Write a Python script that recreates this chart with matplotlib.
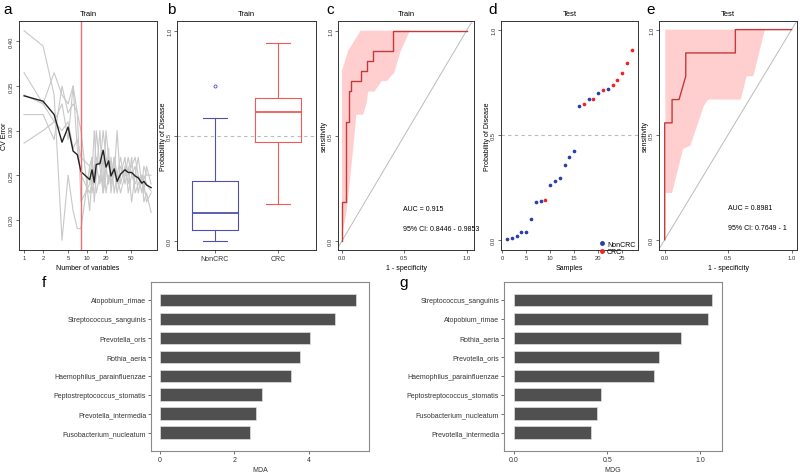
import numpy as np
import matplotlib
matplotlib.use('Agg')
from matplotlib import pyplot as plt
from matplotlib.lines import Line2D

plt.rcParams['font.family'] = ['Liberation Sans', 'DejaVu Sans']

# ---- a: CV error vs number of variables
n_vars = [1, 2, 3, 4, 5, 6, 7, 8, 11, 12, 13, 14, 16, 18, 20, 22, 24, 27, 30, 34, 40, 45, 51, 58, 65, 74, 80, 88, 104]
cv_mean = [0.339, 0.333, 0.318, 0.287, 0.304, 0.277, 0.273, 0.254, 0.245, 0.256, 0.242, 0.262, 0.263, 0.278, 0.259,
           0.266, 0.249, 0.257, 0.243, 0.251, 0.256, 0.253, 0.253, 0.249, 0.247, 0.241, 0.243, 0.239, 0.236]
cv_rep1 = [0.412, 0.395, 0.34, 0.177, 0.25, 0.21, 0.19, 0.19, 0.26, 0.23, 0.25, 0.30, 0.26, 0.23, 0.25, 0.28, 0.23,
           0.26, 0.23, 0.25, 0.27, 0.23, 0.25, 0.26, 0.23, 0.25, 0.22, 0.23, 0.208]
cv_rep2 = [0.365, 0.33, 0.365, 0.34, 0.33, 0.35, 0.32, 0.22, 0.24, 0.27, 0.22, 0.25, 0.30, 0.23, 0.26, 0.24, 0.27,
           0.23, 0.25, 0.27, 0.24, 0.26, 0.22, 0.25, 0.27, 0.24, 0.26, 0.25, 0.25]
cv_rep3 = [0.318, 0.318, 0.29, 0.35, 0.32, 0.33, 0.32, 0.30, 0.21, 0.25, 0.30, 0.26, 0.24, 0.27, 0.23, 0.25, 0.24,
           0.27, 0.25, 0.23, 0.25, 0.27, 0.25, 0.24, 0.25, 0.23, 0.25, 0.24, 0.232]
cv_rep4 = [0.286, 0.30, 0.31, 0.33, 0.29, 0.35, 0.28, 0.25, 0.23, 0.24, 0.26, 0.23, 0.25, 0.24, 0.30, 0.27, 0.24,
           0.25, 0.30, 0.24, 0.26, 0.24, 0.27, 0.23, 0.24, 0.25, 0.23, 0.26, 0.24]
cv_rep5 = [0.34, 0.33, 0.31, 0.30, 0.31, 0.28, 0.29, 0.27, 0.26, 0.27, 0.24, 0.27, 0.26, 0.30, 0.27, 0.26, 0.25,
           0.27, 0.24, 0.26, 0.25, 0.25, 0.26, 0.27, 0.25, 0.24, 0.24, 0.22, 0.23]
best_n = 8

# ---- b: train probabilities (whislo, q1, med, q3, whishi)
noncrc_box = [0.0, 0.052, 0.131, 0.286, 0.583]
noncrc_out = [0.735]
crc_box = [0.175, 0.471, 0.611, 0.68, 0.94]

# ---- c: train ROC
train_fpr = [0, 0, 0.03, 0.03, 0.056, 0.056, 0.075, 0.075, 0.15, 0.15, 0.198, 0.198, 0.246, 0.246, 0.411, 0.411, 1.0]
train_tpr = [0, 0.186, 0.186, 0.567, 0.567, 0.714, 0.714, 0.762, 0.762, 0.81, 0.81, 0.857, 0.857, 0.905, 0.905, 1.0, 1.0]
train_ci_x = [0, 0, 0.05, 0.15, 0.545, 0.47, 0.42, 0.36, 0.32, 0.26, 0.21, 0.2, 0.17, 0.115, 0.104, 0.064, 0.037]
train_ci_y = [0.03, 0.81, 0.905, 1.0, 1.0, 0.9, 0.8, 0.76, 0.76, 0.71, 0.71, 0.66, 0.6, 0.6, 0.524, 0.286, 0.135]
train_auc = 'AUC = 0.915'
train_ci = '95% CI: 0.8446 - 0.9853'

# ---- d: test probabilities
test_prob = [0.003, 0.006, 0.019, 0.038, 0.038, 0.099, 0.178, 0.184, 0.187, 0.26, 0.281, 0.292, 0.356, 0.395,
             0.424, 0.638, 0.646, 0.670, 0.670, 0.699, 0.711, 0.718, 0.737, 0.760, 0.794, 0.841, 0.902]
test_group = ['NonCRC'] * 8 + ['CRC'] + ['NonCRC'] * 7 + ['CRC', 'NonCRC', 'CRC', 'NonCRC', 'CRC', 'NonCRC'] + ['CRC'] * 5

# ---- e: test ROC
test_fpr = [0, 0, 0.058, 0.058, 0.113, 0.166, 0.166, 0.557, 0.557, 1.0]
test_tpr = [0, 0.556, 0.556, 0.667, 0.667, 0.778, 0.889, 0.889, 1.0, 1.0]
test_ci_x = [0.005, 0.005, 0.79, 0.699, 0.646, 0.6, 0.343, 0.309, 0.203, 0.145, 0.058]
test_ci_y = [0.222, 1.0, 1.0, 0.778, 0.778, 0.667, 0.667, 0.638, 0.448, 0.432, 0.222]
test_auc = 'AUC = 0.8981'
test_ci = '95% CI: 0.7649 - 1'

# ---- f / g: importance
mda_names = ['Atopobium_rimae', 'Streptococcus_sanguinis', 'Prevotella_oris', 'Rothia_aeria',
             'Haemophilus_parainfluenzae', 'Peptostreptococcus_stomatis', 'Prevotella_intermedia',
             'Fusobacterium_nucleatum']
mda_vals = [5.25, 4.69, 4.02, 3.75, 3.51, 2.73, 2.57, 2.41]
mdg_names = ['Streptococcus_sanguinis', 'Atopobium_rimae', 'Rothia_aeria', 'Prevotella_oris',
             'Haemophilus_parainfluenzae', 'Peptostreptococcus_stomatis', 'Fusobacterium_nucleatum',
             'Prevotella_intermedia']
mdg_vals = [1.063, 1.041, 0.898, 0.776, 0.754, 0.466, 0.443, 0.414]

W, H = 800, 477
fig = plt.figure(figsize=(W / 100, H / 100), dpi=100)


def px_axes(l, t, r, b):
    return fig.add_axes([l / W, 1 - b / H, (r - l) / W, (b - t) / H])


def r_style(ax, title=None):
    for s in ax.spines.values():
        s.set_color('#333333')
        s.set_linewidth(0.7)
    ax.tick_params(labelsize=4.2, length=2, width=0.5, pad=1.5, colors='#333333')
    ax.tick_params(axis='y', labelrotation=90)
    for lab in ax.get_yticklabels():
        lab.set_va('center')
    if title:
        ax.set_title(title, fontsize=5.5, pad=4)


# a
ax = px_axes(19, 22, 157, 251)
for rep in [cv_rep1, cv_rep2, cv_rep3, cv_rep4, cv_rep5]:
    ax.plot(n_vars, rep, color='#C8C8C8', lw=0.8)
ax.plot(n_vars, cv_mean, color='#222222', lw=1.0)
ax.axvline(best_n, color='#F07070', lw=1.0)
ax.set_xscale('log')
ax.set_xlim(0.83, 129)
ax.set_ylim(0.166, 0.423)
ax.set_xticks([1, 2, 5, 10, 20, 50])
ax.set_xticklabels(['1', '2', '5', '10', '20', '50'])
ax.minorticks_off()
ax.set_yticks([0.20, 0.25, 0.30, 0.35, 0.40])
ax.set_yticklabels(['0.20', '0.25', '0.30', '0.35', '0.40'])
ax.set_xlabel('Number of variables', fontsize=5, labelpad=3)
ax.set_ylabel('CV Error', fontsize=5, labelpad=0.5)
r_style(ax, 'Train')

# b
ax = px_axes(177, 22, 316, 251)
stats = []
for box, out in [(noncrc_box, noncrc_out), (crc_box, [])]:
    stats.append({'whislo': box[0], 'q1': box[1], 'med': box[2], 'q3': box[3], 'whishi': box[4], 'fliers': out})
ax.axhline(0.5, color='#BBBBBB', lw=0.8, ls=(0, (3, 3)))
for i, (st, col) in enumerate(zip(stats, ['#5050B0', '#F05A5A'])):
    ax.bxp([st], positions=[i + 1], widths=0.74, showcaps=True,
           boxprops=dict(color=col, lw=0.8), whiskerprops=dict(color=col, lw=0.8, ls='-'),
           capprops=dict(color=col, lw=0.8), medianprops=dict(color=col, lw=1.3),
           flierprops=dict(marker='o', markersize=2.2, markerfacecolor='none', markeredgecolor=col, markeredgewidth=0.6))
ax.set_xlim(0.4, 2.6)
ax.set_ylim(-0.044, 1.046)
ax.set_xticks([1, 2])
ax.set_xticklabels(['NonCRC', 'CRC'])
ax.set_yticks([0, 0.5, 1.0])
ax.set_yticklabels(['0.0', '0.5', '1.0'])
ax.set_ylabel('Probability of Disease', fontsize=5, labelpad=0)
r_style(ax, 'Train')
ax.tick_params(axis='x', labelsize=5)

# c
ax = px_axes(338, 22, 474, 251)
ax.fill(train_ci_x, train_ci_y, color='#FFCFCF', lw=0)
ax.axline((0, 0), (1, 1), color='#BBBBBB', lw=0.7)
ax.plot(train_fpr, train_tpr, color='#C43A3A', lw=1.0)
ax.text(0.487, 0.146, train_auc, fontsize=5)
ax.text(0.487, 0.051, train_ci, fontsize=5)
ax.set_xlim(-0.032, 1.06)
ax.set_ylim(-0.044, 1.046)
ax.set_xticks([0, 0.5, 1.0])
ax.set_xticklabels(['0.0', '0.5', '1.0'])
ax.set_yticks([0, 0.5, 1.0])
ax.set_yticklabels(['0.0', '0.5', '1.0'])
ax.set_xlabel('1 - specificity', fontsize=5, labelpad=3)
ax.set_ylabel('sensitivity', fontsize=5, labelpad=0)
r_style(ax, 'Train')

# d
ax = px_axes(501, 22, 638, 251)
ax.axhline(0.5, color='#BBBBBB', lw=0.8, ls=(0, (3, 3)))
idx = np.arange(1, len(test_prob) + 1)
prob = np.array(test_prob)
grp = np.array(test_group)
for g, col in [('NonCRC', '#2A3FA8'), ('CRC', '#F22222')]:
    m = grp == g
    ax.scatter(idx[m], prob[m], s=7, color=col, lw=0)
ax.set_xlim(-0.27, 28.3)
ax.set_ylim(-0.049, 1.041)
ax.set_xticks([0, 5, 10, 15, 20, 25])
ax.set_yticks([0, 0.5, 1.0])
ax.set_yticklabels(['0.0', '0.5', '1.0'])
ax.set_xlabel('Samples', fontsize=5, labelpad=3)
ax.set_ylabel('Probability of Disease', fontsize=5, labelpad=0)
handles = [Line2D([], [], ls='', marker='o', markersize=2.5, color='#2A3FA8'),
           Line2D([], [], ls='', marker='o', markersize=2.5, color='#F22222')]
ax.legend(handles, ['NonCRC', 'CRC'], loc='lower right', bbox_to_anchor=(1.0, -0.035), frameon=False,
          fontsize=5, handletextpad=0.3, handlelength=0.8, labelspacing=0.05, borderaxespad=0)
r_style(ax, 'Test')

# e
ax = px_axes(659, 22, 797, 251)
ax.fill(test_ci_x, test_ci_y, color='#FFCFCF', lw=0)
ax.axline((0, 0), (1, 1), color='#BBBBBB', lw=0.7)
ax.plot(test_fpr, test_tpr, color='#C43A3A', lw=1.0)
ax.text(0.5, 0.146, test_auc, fontsize=5)
ax.text(0.5, 0.051, test_ci, fontsize=5)
ax.set_xlim(-0.045, 1.043)
ax.set_ylim(-0.049, 1.041)
ax.set_xticks([0, 0.5, 1.0])
ax.set_xticklabels(['0.0', '0.5', '1.0'])
ax.set_yticks([0, 0.5, 1.0])
ax.set_yticklabels(['0.0', '0.5', '1.0'])
ax.set_xlabel('1 - specificity', fontsize=5, labelpad=3)
ax.set_ylabel('sensitivity', fontsize=5, labelpad=0)
r_style(ax, 'Test')


# f, g
def bar_panel(box, names, vals, xlim, ticks, ticklabels, xlabel):
    ax = px_axes(*box)
    y = np.arange(len(names))
    ax.barh(y, vals, height=0.66, color='#505050', edgecolor='#E0E0E0', lw=0.5)
    ax.set_yticks(y)
    ax.set_yticklabels(names)
    ax.set_ylim(len(names) - 1 + 0.97, -0.95)
    ax.set_xlim(*xlim)
    ax.set_xticks(ticks)
    ax.set_xticklabels(ticklabels)
    ax.set_xlabel(xlabel, fontsize=5, color='#333333', labelpad=2)
    for s in ax.spines.values():
        s.set_color('#8A8A8A')
        s.set_linewidth(0.8)
    ax.tick_params(labelsize=5, length=2, width=0.5, pad=1.5, colors='#333333')
    return ax


bar_panel((151, 283, 369, 452), mda_names, mda_vals, (-0.24, 5.61), [0, 2, 4], ['0', '2', '4'], 'MDA')
bar_panel((504, 283, 722, 452), mdg_names, mdg_vals, (-0.054, 1.117), [0, 0.5, 1.0], ['0.0', '0.5', '1.0'], 'MDG')

for lab, x, y in [('a', 8, 10), ('b', 171, 10), ('c', 330, 10), ('d', 493, 10), ('e', 651, 10),
                  ('f', 44, 283), ('g', 404, 283)]:
    fig.text(x / W, 1 - y / H, lab, fontsize=11, ha='center', va='center')

fig.savefig('out.png', dpi=100)
